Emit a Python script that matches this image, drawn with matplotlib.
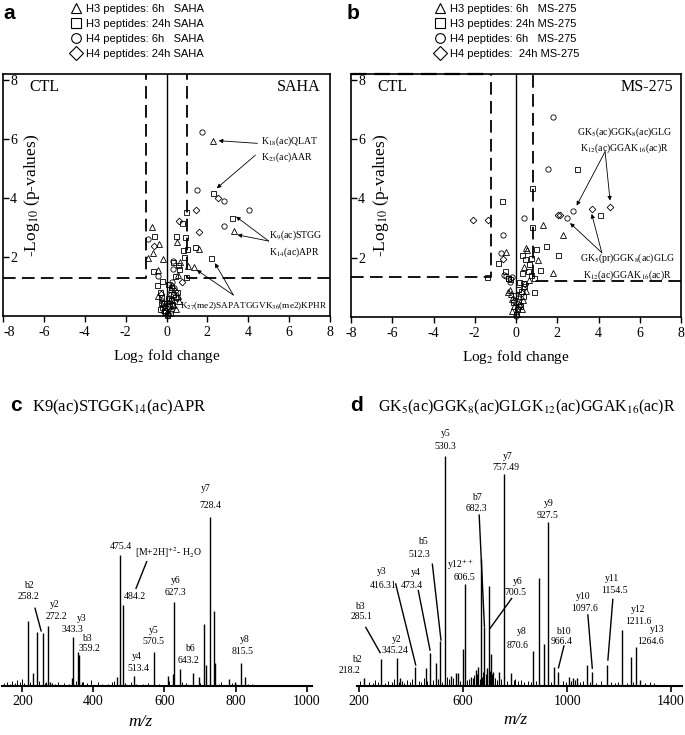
import matplotlib
matplotlib.use("Agg")
import matplotlib.pyplot as plt
from matplotlib.lines import Line2D

# ---------- panel a : SAHA volcano (log2 fold change, -log10 p) ----------
a_h3_6h_x = [2.29, 3.30, -0.72, -0.38, -0.68, -0.89, -0.16, 0.50, 1.61, 0.66, 1.07, 1.33, 0.58, -0.43,
             -0.40, 0.55, 0.20, 0.28, 0.32, -0.15, 0.45, 0.05, -0.05, 0.15, 0.62]
a_h3_6h_y = [5.94, 2.88, 3.03, 2.45, 2.15, 1.96, 1.92, 2.51, 2.26, 1.84, 1.69, 1.67, 1.38, 1.56,
             0.68, 0.68, 0.90, 1.05, 0.36, 0.43, 0.25, 0.15, 0.30, 0.55, 0.50]
a_h3_24h_x = [2.29, 0.94, 0.76, 3.22, -0.60, 0.46, 0.91, 0.79, 1.02, 1.38, 2.18, 0.86, 0.33, 0.58, 0.60,
              0.40, 0.95, -0.68, -0.24, -0.45, -0.32, -0.27, -0.28, 0.20, 0.09, 0.50, 0.40, 0.24, -0.20,
              -0.10, 0.10, 0.25, -0.30, 0.05, 0.30, 0.15, -0.15, 0.02, -0.05]
a_h3_24h_y = [4.16, 3.54, 3.16, 3.31, 2.71, 2.72, 2.69, 2.24, 2.26, 2.35, 1.96, 2.01, 1.84, 1.73, 1.58,
              1.35, 1.33, 1.54, 1.20, 1.05, 0.82, 0.63, 0.45, 0.99, 1.09, 0.82, 0.66, 0.55, 0.30,
              0.20, 0.35, 0.40, 0.25, 0.60, 0.75, 0.10, 0.45, 0.05, 0.12]
a_h4_6h_x = [1.72, 1.51, 2.83, 4.05, 2.83, -0.92, 0.30, 0.30, -0.40, 0.25, 0.10, -0.05, 0.35, 0.00,
             0.20, -0.20]
a_h4_6h_y = [6.25, 4.27, 3.91, 3.59, 3.06, 2.60, 1.86, 1.58, 1.35, 1.16, 0.60, 0.35, 0.95, 0.08,
             0.20, 0.50]
a_h4_24h_x = [2.50, 1.44, 0.63, 1.61, -0.61, 0.74, 0.40, 0.15, 0.05, -0.10, 0.25, 0.50, -0.25, 0.08]
a_h4_24h_y = [3.99, 3.59, 3.23, 2.86, 2.37, 1.14, 0.85, 0.70, 0.25, 0.15, 0.40, 0.60, 0.75, 0.03]

# ---------- panel b : MS-275 volcano ----------
b_h3_6h_x = [1.33, 2.30, 1.81, 1.05, -0.49, -0.39, 0.47, 0.51, 0.40, 0.65, 0.48, 0.36, 0.27, -0.31,
             -0.26, -0.18, -0.10, -0.21, 0.05, 0.15]
b_h3_6h_y = [3.11, 2.76, 1.49, 1.92, 2.21, 0.85, 2.34, 2.26, 1.70, 1.25, 0.87, 0.59, 0.26, 0.91,
             0.78, 0.61, 0.38, 0.21, 0.10, 0.45]
b_h3_24h_x = [2.94, 0.76, -0.70, 0.76, 4.08, 1.46, 2.02, 0.97, 1.17, 0.89, -0.89, -1.43, -0.53, -0.39,
              0.28, 0.73, 0.43, 0.62, 0.56, 0.27, 0.73, 0.89, 0.16, 0.40, 0.24, 0.32, 0.08, 0.21,
              -0.40, -0.29, -0.05, -0.15, 0.06, -0.02, 0.12, 0.35]
b_h3_24h_y = [4.99, 4.36, 3.90, 3.05, 3.45, 2.38, 2.08, 2.31, 1.57, 0.84, 1.81, 1.35, 1.55, 1.30,
              2.10, 2.00, 1.97, 1.80, 1.55, 1.50, 1.43, 1.30, 1.19, 1.04, 0.87, 0.70, 0.53, 0.36,
              1.32, 1.29, 0.75, 0.50, 0.26, 0.09, 0.95, 1.15]
b_h4_6h_x = [1.78, 1.53, 0.39, 2.46, 2.78, -0.65, -0.75, -0.49, -0.21, -0.56, -0.29, 0.10, 0.20, 0.00]
b_h4_6h_y = [6.75, 4.99, 3.33, 3.33, 3.57, 2.77, 2.15, 1.38, 1.34, 1.43, 1.18, 0.65, 0.40, 0.05]
b_h4_24h_x = [-2.07, -1.34, 2.02, 2.13, 3.67, 4.56, -0.65, 0.30, 0.10, -0.10, 0.45]
b_h4_24h_y = [3.29, 3.29, 3.45, 3.43, 3.63, 3.71, 1.97, 0.80, 0.30, 0.55, 1.10]

a_legend = ["H3 peptides: 6h   SAHA", "H3 peptides: 24h SAHA",
            "H4 peptides: 6h   SAHA", "H4 peptides: 24h SAHA"]
b_legend = ["H3 peptides: 6h   MS-275", "H3 peptides: 24h MS-275",
            "H4 peptides: 6h   MS-275", "H4 peptides:  24h MS-275"]

# ---------- panel c : MS/MS spectrum K9(ac)STGGK14(ac)APR ----------
c_mz = [215, 231, 242, 258.2, 272.2, 278, 340, 343.3, 357.6, 359.2, 367, 467, 475.4, 484.2, 513.4,
        570.5, 609, 625, 627.3, 643.2, 679, 697, 711, 716, 728.4, 739, 742, 781, 799, 815.5, 826]
c_int = [38.5, 7.3, 32, 31, 35.3, 2.4, 4.3, 29, 19.7, 18.2, 2.4, 4.9, 77.3, 47.7, 5.7,
         20.1, 5.9, 6.7, 49.7, 9.9, 7.3, 5.3, 36.3, 12.2, 100, 44.2, 13.2, 4, 2.4, 13.6, 4.9]
c_noise_mz = [150, 158, 166, 172, 180, 186, 193, 198, 205, 222, 248, 263, 268, 284, 292, 300, 318, 332,
              350, 372, 382, 392, 412, 425, 440, 452, 458, 490, 505, 520, 540, 555, 585, 612, 650, 660,
              700, 752, 760, 790, 802, 835, 845]
c_noise_int = [1.5, 2.0, 1.2, 2.5, 1.8, 3.5, 2.2, 4.0, 1.5, 2.0, 2.5, 1.8, 2.2, 1.5, 1.2, 2.0, 1.5, 1.0,
               2.5, 2.0, 1.5, 3.5, 2.0, 1.0, 1.2, 2.0, 2.5, 1.5, 2.0, 1.0, 1.2, 1.5, 1.0, 3.0, 2.0, 1.5,
               1.8, 1.2, 2.0, 1.5, 1.0, 1.0, 1.2]
c_ions = ["b2", "y2", "y3", "b3", "y4", "y5", "y6", "b6", "y7", "y8"]
c_ion_mz = ["258.2", "272.2", "343.3", "359.2", "513.4", "570.5", "627.3", "643.2", "728.4", "815.5"]

# ---------- panel d : MS/MS spectrum GK5(ac)GGK8(ac)GLGK12(ac)GGAK16(ac)R ----------
d_mz = [218.2, 285.1, 345.24, 358, 416.31, 456, 473.4, 496, 512.3, 530.3, 554, 573, 582, 598, 606.5,
        630, 650, 659, 668, 682.3, 694, 700.5, 709, 716, 738, 757.49, 783, 870.6, 892, 911, 927.5,
        951, 966.4, 1008, 1022, 1038, 1078, 1097.6, 1154.5, 1211.6, 1245, 1264.6, 1282]
d_int = [3.5, 11.6, 11.9, 3.2, 8.0, 7.5, 14.4, 9.7, 19.4, 100, 4.2, 5.4, 5.4, 16, 44.3,
         3.9, 6.8, 8.3, 55.2, 25.7, 7.5, 43.4, 14, 6, 6, 92, 5.7, 15.2, 46.7, 18.1, 71.4,
         8.3, 6.1, 3.6, 3.2, 3.2, 9, 6.1, 9, 24.2, 12.3, 16.7, 2.5]
d_noise_mz = [205, 240, 255, 262, 272, 300, 312, 325, 333, 352, 365, 372, 385, 395, 405, 430, 440, 448,
              462, 485, 505, 520, 540, 545, 562, 590, 615, 622, 638, 644, 655, 664, 673, 677, 687, 690,
              705, 713, 722, 730, 745, 770, 795, 800, 812, 822, 835, 848, 860, 880, 940, 985, 995, 1015,
              1030, 1050, 1060, 1090, 1110, 1130, 1170, 1185, 1195, 1230, 1255, 1300, 1320, 1335]
d_noise_int = [2.0, 1.5, 1.2, 2.5, 1.5, 1.2, 2.0, 1.5, 3.0, 1.8, 2.0, 1.2, 2.5, 1.5, 3.0, 2.0, 1.5, 3.5,
               2.0, 2.5, 3.0, 1.5, 4.0, 3.0, 3.5, 2.0, 2.5, 3.0, 3.5, 4.5, 5.0, 3.0, 4.0, 6.0, 5.0, 4.0,
               6.5, 5.0, 3.5, 2.5, 3.0, 2.0, 2.5, 3.0, 2.0, 2.5, 1.5, 2.0, 1.5, 2.0, 1.5, 2.0, 1.5, 2.0,
               2.5, 1.5, 2.0, 1.5, 1.2, 2.0, 1.5, 1.0, 1.5, 1.2, 1.5, 1.0, 1.5, 1.2]
d_ions = ["b2", "b3", "y2", "y3", "y4", "b5", "y5", "y12$^{++}$", "b7", "y6", "y7", "y8", "y9",
          "b10", "y10", "y11", "y12", "y13"]
d_ion_mz = ["218.2", "285.1", "345.24", "416.31", "473.4", "512.3", "530.3", "606.5", "682.3",
            "700.5", "757.49", "870.6", "927.5", "966.4", "1097.6", "1154.5", "1211.6", "1264.6"]

plt.rcParams["font.family"] = ["Liberation Serif", "DejaVu Serif"]
plt.rcParams["mathtext.fontset"] = "stix"
plt.rcParams["axes.unicode_minus"] = False

W, H = 685, 735
fig = plt.figure(figsize=(W / 100, H / 100), dpi=100)


def px_axes(l, t, r, b):
    return fig.add_axes([l / W, 1 - b / H, (r - l) / W, (b - t) / H])


def fig_text(x, y, s, **kw):
    fig.text(x / W, 1 - y / H, s, **kw)


markers = ["^", "s", "o", "D"]
msizes = [4.2, 3.6, 3.8, 3.4]
dash = (0, (7, 3.5))
sans = ["Liberation Sans", "DejaVu Sans"]


def volcano(ax, series, thr_l, thr_r, h_l, h_r):
    top = 8.2
    for (xs, ys), m, ms in zip(series, markers, msizes):
        ax.plot(xs, ys, ls="none", marker=m, ms=ms, mfc="none", mec="k", mew=0.6, clip_on=False)
    ax.plot([-8, thr_l, thr_l], [h_l, h_l, top], color="k", lw=1.3, ls=dash)
    ax.plot([8, thr_r, thr_r], [h_r, h_r, top], color="k", lw=1.3, ls=dash)
    ax.axvline(0, color="k", lw=1.0)
    ax.set_xlim(-8, 8)
    ax.set_ylim(0, top)
    ax.set_xticks(range(-8, 9, 2))
    ax.set_yticks([2, 4, 6, 8])
    ax.tick_params(axis="x", direction="out", length=4, width=1, labelsize=10, pad=3)
    ax.tick_params(axis="y", direction="in", length=4, width=1, labelsize=10, pad=-10)
    for sp in ax.spines.values():
        sp.set_linewidth(1.2)
    ax.text(0.09, 0.5, "-Log$_{10}$ (p-values)", rotation=90, transform=ax.transAxes,
            ha="center", va="center", fontsize=12.5)
    ax.text(0.5, -0.165, "Log$_2$ fold change", transform=ax.transAxes,
            ha="center", va="center", fontsize=11)


def arrow(ax, tail, head):
    ax.annotate("", xy=head, xytext=tail,
                arrowprops=dict(arrowstyle="-|>", lw=0.6, color="k", mutation_scale=6,
                                shrinkA=0, shrinkB=0))


# ---- panel a ----
ax_a = px_axes(3, 74, 330, 316)
volcano(ax_a, [(a_h3_6h_x, a_h3_6h_y), (a_h3_24h_x, a_h3_24h_y),
               (a_h4_6h_x, a_h4_6h_y), (a_h4_24h_x, a_h4_24h_y)], -1, 1, 1.3, 1.3)
# first x label sits flush with the figure edge, as in the original
ax_a.get_xticklabels()[0].set_horizontalalignment("left")
ax_a.text(-6.7, 7.75, "CTL", fontsize=11.5, va="center")
ax_a.text(7.55, 7.75, "SAHA", fontsize=11.5, va="center", ha="right")
ax_a.text(4.6, 5.66, "K$_{18}$(ac)QLAT\nK$_{23}$(ac)AAR", fontsize=7, va="center", linespacing=1.3)
arrow(ax_a, (4.45, 5.85), (2.55, 5.94))
arrow(ax_a, (4.35, 5.45), (2.46, 4.33))
ax_a.text(5.0, 2.45, "K$_9$(ac)STGG\nK$_{14}$(ac)APR", fontsize=7, va="center", linespacing=1.3)
arrow(ax_a, (5.0, 2.54), (3.40, 3.37))
arrow(ax_a, (5.0, 2.54), (3.47, 2.75))
ax_a.text(0.66, 0.32, "K$_{27}$(me2)SAPATGGVK$_{36}$(me2)KPHR", fontsize=6.7, va="center")
arrow(ax_a, (3.27, 0.71), (2.37, 1.79))
arrow(ax_a, (3.27, 0.71), (1.48, 1.56))

# ---- panel b ----
ax_b = px_axes(351, 74, 681, 317)
volcano(ax_b, [(b_h3_6h_x, b_h3_6h_y), (b_h3_24h_x, b_h3_24h_y),
               (b_h4_6h_x, b_h4_6h_y), (b_h4_24h_x, b_h4_24h_y)], -1.2, 0.8, 1.35, 1.2)
ax_b.plot([-8, -1.2], [8.2, 8.2], color="k", lw=1.6, ls=dash, clip_on=False)
ax_b.text(-6.7, 7.75, "CTL", fontsize=11.5, va="center")
ax_b.text(7.6, 7.75, "MS-275", fontsize=11.5, va="center", ha="right")
ax_b.text(5.25, 5.96, "GK$_5$(ac)GGK$_8$(ac)GLG\nK$_{12}$(ac)GGAK$_{16}$(ac)R", fontsize=7,
          va="center", ha="center", linespacing=1.3)
arrow(ax_b, (4.32, 5.58), (2.94, 3.76))
arrow(ax_b, (4.32, 5.58), (4.56, 3.93))
ax_b.text(5.4, 1.70, "GK$_5$(pr)GGK$_8$(ac)GLG\nK$_{12}$(ac)GGAK$_{16}$(ac)R", fontsize=7,
          va="center", ha="center", linespacing=1.3)
arrow(ax_b, (4.16, 2.17), (2.62, 3.17))
arrow(ax_b, (4.16, 2.17), (3.67, 3.48))

# ---- legends ----
handles = [Line2D([], [], ls="none", marker=m, ms=7, mfc="none", mec="k", mew=0.8) for m in markers]
for labels, x0 in [(a_legend, 70.5), (b_legend, 434.5)]:
    fig.legend(handles, labels, loc="upper left", bbox_to_anchor=(x0 / W, 1 - 4 / H),
               bbox_transform=fig.transFigure, frameon=False, handlelength=1.0,
               handletextpad=0.4, labelspacing=0.45, borderpad=0, borderaxespad=0,
               prop={"family": sans, "size": 8})


# ---- spectra ----
def spectrum(ax, mz, inten, nmz, nint, xlim, ylim, ticks):
    ax.vlines(nmz, 0, nint, color="k", lw=0.7)
    ax.vlines(mz, 0, inten, color="k", lw=1.0)
    ax.set_xlim(*xlim)
    ax.set_ylim(*ylim)
    for s in ["left", "right", "top"]:
        ax.spines[s].set_visible(False)
    ax.spines["bottom"].set_linewidth(1.5)
    ax.set_yticks([])
    ax.set_xticks(ticks)
    ax.tick_params(axis="x", direction="out", length=4, width=1.2, labelsize=10, pad=3)


ax_c = px_axes(2, 480, 312, 685.7)
spectrum(ax_c, c_mz, c_int, c_noise_mz, c_noise_int, (143, 1015), (0, 121.7), range(200, 1001, 200))
c_pos = {"b2": ((219, 59), (217, 52.7)), "y2": ((292, 48.2), (295, 40.8)),
         "y3": ((367, 39.5), (342, 33.4)), "b3": ((383, 28), (388, 22.1)),
         "y4": ((522, 17.2), (526, 10.3)), "y5": ((571, 32.4), (570, 26)),
         "y6": ((631, 62), (631, 55)), "b6": ((672, 22.1), (667, 15.2)),
         "y7": ((716, 116.8), (730, 106.9)), "y8": ((826, 27.5), (820, 20.1))}
for ion, val in zip(c_ions, c_ion_mz):
    (x1, y1), (x2, y2) = c_pos[ion]
    ax_c.text(x1, y1, ion, fontsize=7, ha="center", va="center", clip_on=False)
    ax_c.text(x2, y2, val, fontsize=7, ha="center", va="center", clip_on=False)
ax_c.text(477, 82.2, "475.4", fontsize=7, ha="center", va="center")
ax_c.text(612, 78.7, "[M+2H]$^{+2}$- H$_2$O", fontsize=7, ha="center", va="center")
ax_c.text(517, 52.7, "484.2", fontsize=7, ha="center", va="center")
ax_c.plot([236, 253], [45.8, 32.4], color="k", lw=1.0)
ax_c.plot([550, 520], [73.4, 57.6], color="k", lw=1.0)
fig_text(140, 722, "m/z", fontsize=12.5, style="italic", ha="center", va="center")

ax_d = px_axes(356.7, 420, 682, 685.7)
spectrum(ax_d, d_mz, d_int, d_noise_mz, d_noise_int, (191, 1442), (0, 115.7), [200, 600, 1000, 1400])
d_pos = {"b2": ((191, 11.5), (165, 6.5)), "b3": ((204, 34.7), (208, 30)),
         "y2": ((345, 20.2), (338, 15.5)), "y3": ((287, 49.6), (293, 43.8)),
         "y4": ((418, 49.2), (403, 43.8)), "b5": ((447, 62.7), (431, 57.3)),
         "y5": ((533, 109.9), (533, 104.1)), "y12$^{++}$": ((588, 52.5), (605, 47.2)),
         "b7": ((653, 82), (650, 77.2)), "y6": ((810, 45.3), (800, 40.5)),
         "y7": ((770, 100), (764, 95.1)), "y8": ((826, 23.5), (810, 17.7)),
         "y9": ((931, 79.4), (924, 74.3)), "b10": ((986, 23.8), (980, 19.2)),
         "y10": ((1063, 39), (1069, 33.7)), "y11": ((1172, 46.8), (1182, 41.4)),
         "y12": ((1273, 33.3), (1273, 27.9)), "y13": ((1345, 24.6), (1319, 19.2))}
for ion, val in zip(d_ions, d_ion_mz):
    (x1, y1), (x2, y2) = d_pos[ion]
    ax_d.text(x1, y1, ion, fontsize=7, ha="center", va="center", clip_on=False)
    ax_d.text(x2, y2, val, fontsize=7, ha="center", va="center", clip_on=False)
d_leaders = [((662, 74.3), (682.3, 25.7)), ((482, 52.9), (515, 19.9)), ((341, 44.3), (418, 9)),
             ((428, 41.4), (473, 15.5)), ((787, 38), (704, 25)), ((1176, 37.6), (1157, 11.2)),
             ((1080, 30.8), (1097, 7.6)), ((226, 25.4), (281, 14.4)), ((988, 17.3), (967, 7.8))]
for (x1, y1), (x2, y2) in d_leaders:
    ax_d.plot([x1, x2], [y1, y2], color="k", lw=1.0)
fig_text(515, 720, "m/z", fontsize=12.5, style="italic", ha="center", va="center")

# ---- panel letters and titles ----
for letter, x, y in [("a", 3, 19), ("b", 347, 19), ("c", 10, 411), ("d", 350, 411)]:
    fig_text(x, y, letter, fontsize=15, fontweight="bold", family=sans, va="baseline")
fig_text(32, 411, "K9(ac)STGGK$_{14}$(ac)APR", fontsize=12, va="baseline")
fig_text(378, 411, "GK$_5$(ac)GGK$_8$(ac)GLGK$_{12}$(ac)GGAK$_{16}$(ac)R", fontsize=11.5, va="baseline")

fig.savefig("out.png", dpi=100)
